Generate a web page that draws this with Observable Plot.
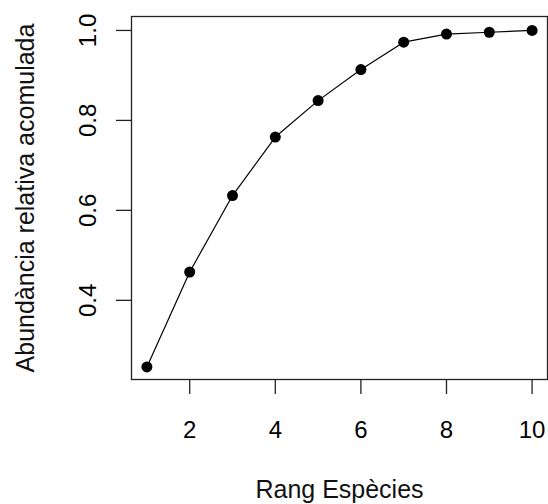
<!DOCTYPE html>
<html>
<head>
<meta charset="utf-8">
<script src="https://cdn.jsdelivr.net/npm/d3@7"></script>
<script src="https://cdn.jsdelivr.net/npm/@observablehq/plot@0.6"></script>
<style>
  html, body { margin: 0; padding: 0; background: #fff; }
</style>
</head>
<body>
<div id="chart"></div>
<script>
// Cumulative relative abundance by species rank
const rank = [1, 2, 3, 4, 5, 6, 7, 8, 9, 10];
const cumulative = [0.252, 0.463, 0.633, 0.763, 0.844, 0.913, 0.974, 0.992, 0.996, 1.0];
const xTicks = [2, 4, 6, 8, 10];
const yTicks = [0.4, 0.6, 0.8, 1.0];
const xTitle = "Rang Espècies";
const yTitle = "Abundància relativa acomulada";

const data = rank.map((r, i) => ({rank: r, value: cumulative[i]}));
const font = "'Liberation Sans', Arial, Helvetica, sans-serif";

const chart = Plot.plot({
  width: 548,
  height: 504,
  marginLeft: 131,
  marginRight: 1,
  marginTop: 16,
  marginBottom: 125,
  style: {fontFamily: font, fontSize: "24px", color: "#000", background: "#fff"},
  x: {domain: [0.64, 10.36]},
  y: {domain: [0.224, 1.031]},
  marks: [
    Plot.frame({stroke: "#222", strokeWidth: 1.3}),
    Plot.axisX(xTicks, {
      tickSize: 15, tickPadding: 26, fontSize: 24, stroke: "#222", strokeWidth: 1.3,
      tickFormat: d => String(d), label: null
    }),
    Plot.axisY(yTicks, {
      tickSize: 15, tickPadding: 21, tickRotate: -90, fontSize: 24, stroke: "#222", strokeWidth: 1.3,
      tickFormat: d => d.toFixed(1), label: null
    }),
    Plot.line(data, {x: "rank", y: "value", stroke: "#000", strokeWidth: 1.2}),
    Plot.dot(data, {x: "rank", y: "value", r: 5.5, fill: "#000", stroke: "none"}),
    Plot.text([xTitle], {text: d => d, frameAnchor: "bottom", dy: 118, lineAnchor: "bottom", textAnchor: "middle", fontSize: 25, fill: "#111"}),
    Plot.text([yTitle], {text: d => d, frameAnchor: "left", dx: -98, rotate: -90, lineAnchor: "bottom", textAnchor: "middle", fontSize: 25, fill: "#111"})
  ]
});

document.getElementById("chart").appendChild(chart);
</script>
</body>
</html>
